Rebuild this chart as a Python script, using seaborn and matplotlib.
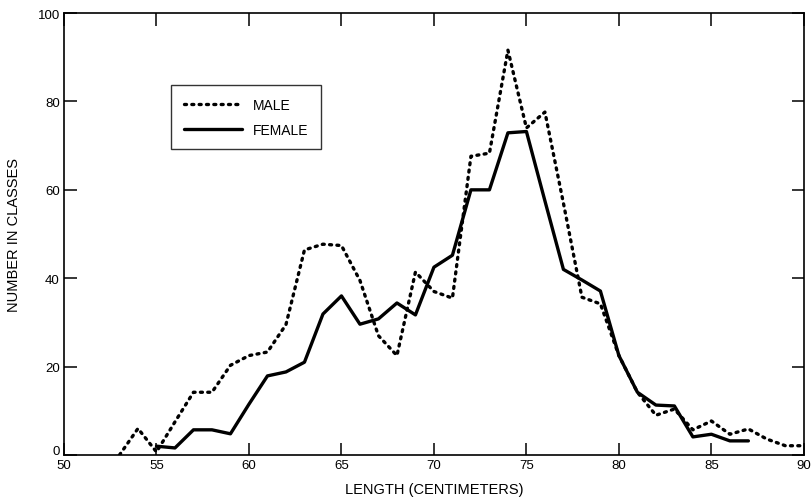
import matplotlib
matplotlib.use("Agg")
import matplotlib.pyplot as plt
import matplotlib.transforms as mtransforms
import seaborn as sns
import pandas as pd

male_length = [53, 54, 55, 56, 57, 58, 59, 60, 61, 62, 63, 64, 65, 66, 67, 68, 69, 70, 71,
               72, 73, 74, 75, 76, 77, 78, 79, 80, 81, 82, 83, 84, 85, 86, 87, 88, 89, 90]
male_count = [0, 6, 0.7, 7.5, 14.2, 14.2, 20.3, 22.5, 23.3, 29.5, 46.4, 47.7, 47.4, 39.5, 27,
              22.5, 41.4, 37, 35.5, 67.6, 68.3, 91.6, 74, 77.6, 57, 35.7, 34.2, 22.5, 14.2, 9,
              10.4, 5.7, 7.7, 4.7, 5.9, 3.6, 2.1, 2.1]

female_length = [55, 56, 57, 58, 59, 60, 61, 62, 63, 64, 65, 66, 67, 68, 69, 70, 71,
                 72, 73, 74, 75, 76, 77, 78, 79, 80, 81, 82, 83, 84, 85, 86, 87]
female_count = [2, 1.6, 5.7, 5.7, 4.8, 11.5, 17.9, 18.8, 21, 31.9, 36, 29.6, 30.8, 34.4, 31.7,
                42.5, 45.2, 60, 60, 72.9, 73.2, 57.5, 42, 39.6, 37.1, 22.5, 14.2, 11.3, 11.1,
                4.1, 4.7, 3.2, 3.2]

x_ticks = [50, 55, 60, 65, 70, 75, 80, 85, 90]
y_ticks = [0, 20, 40, 60, 80, 100]

male = pd.DataFrame({"length": male_length, "count": male_count})
female = pd.DataFrame({"length": female_length, "count": female_count})

sns.set_style("ticks")
plt.rcParams["font.family"] = ["Liberation Sans", "DejaVu Sans"]
plt.rcParams["text.color"] = "black"
plt.rcParams["axes.labelcolor"] = "black"

fig = plt.figure(figsize=(8.12, 5.02), dpi=100)
ax = fig.add_axes([0.0788, 0.0916, 0.9112, 0.8804])

sns.lineplot(data=male, x="length", y="count", ax=ax, color="black", linewidth=2.4,
             linestyle=(0, (0.6, 1.6)), dash_capstyle="round", label="MALE")
sns.lineplot(data=female, x="length", y="count", ax=ax, color="black", linewidth=2.4,
             label="FEMALE")

ax.set_xlim(50, 90)
ax.set_ylim(0, 100)
ax.set_xticks(x_ticks)
ax.set_yticks(y_ticks)
ax.set_xticklabels([str(v) for v in x_ticks], fontsize=9.5)
ax.set_yticklabels([str(v) for v in y_ticks], fontsize=9.5)
ax.tick_params(direction="in", length=9, width=1.1, top=True, right=True,
               labelcolor="black", color="black", pad=3)
for s in ax.spines.values():
    s.set_visible(True)
    s.set_linewidth(1.2)
    s.set_color("black")

# lift the "0" label a little so it clears the "50" below it
zero_lab = ax.get_yticklabels()[0]
zero_lab.set_transform(zero_lab.get_transform() +
                       mtransforms.ScaledTranslation(0, 4 / 72, fig.dpi_scale_trans))

ax.set_xlabel("LENGTH (CENTIMETERS)", fontsize=10.5, labelpad=8)
ax.set_ylabel("NUMBER IN CLASSES", fontsize=10.5, labelpad=12)

leg = ax.legend(loc="upper left", bbox_to_anchor=(0.145, 0.837), borderaxespad=0,
                fontsize=10, handlelength=4.2, frameon=True, fancybox=False,
                edgecolor="black", borderpad=0.9, labelspacing=0.8)
leg.get_frame().set_linewidth(1.0)

fig.savefig("out.png", dpi=100)
